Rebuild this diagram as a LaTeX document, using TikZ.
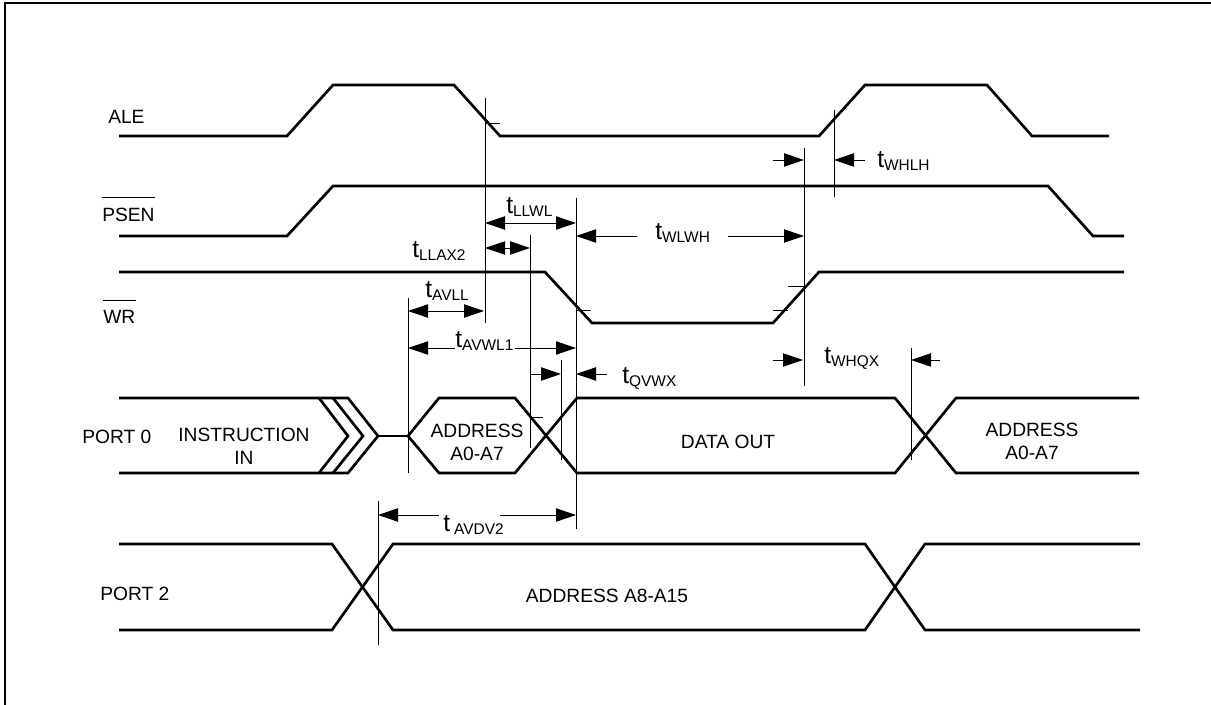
\documentclass[tikz,border=0pt]{standalone}
\usepackage{fontspec}
\setmainfont{Liberation Sans}
\usetikzlibrary{arrows.meta}
\newcommand{\tlabel}[1]{{\fontsize{18.5}{20}\selectfont t}{\fontsize{11.6}{13}\selectfont\raisebox{-2pt}{#1}}}
\begin{document}
\begin{tikzpicture}[x=0.75pt,y=-0.75pt,
  sig/.style={line width=2pt, line join=miter},
  guide/.style={line width=0.7pt},
  tick/.style={line width=0.7pt},
  dimr/.style={line width=0.7pt, -{Triangle[length=15pt,width=10pt]}},
  dimb/.style={line width=0.7pt, {Triangle[length=15pt,width=10pt]}-{Triangle[length=15pt,width=10pt]}},
  txt/.style={font=\fontsize{14.4}{17.25}\selectfont, inner sep=0pt, align=center},
  tlab/.style={inner sep=0pt, anchor=base west}]

\useasboundingbox (0,0) rectangle (1211,705);
\draw[line width=2pt] (5,705) -- (5,3) -- (1211,3);

% ---- signal names
\node[txt, anchor=west] (ale) at (108,117) {ALE};
\node[txt, anchor=west] (psen) at (102,215) {PSEN};
\draw[line width=0.7pt] ([yshift=7.5pt]psen.north west) -- ([yshift=7.5pt]psen.north east);
\node[txt, anchor=west] (wr) at (103,317) {WR};
\draw[line width=0.7pt] ([yshift=7.5pt]wr.north west) -- ([yshift=7.5pt]wr.north east);
\node[txt, anchor=west] (p0) at (82,437) {PORT 0};
\node[txt, anchor=west] (p2) at (100,594) {PORT 2};

% ---- waveforms
\draw[sig] (119,136) -- (287,136) -- (333,85) -- (454,85) -- (500,136) -- (819,136) -- (865,85) -- (987,85) -- (1032,136) -- (1109,136);
\draw[sig] (119,236) -- (287,236) -- (333,186) -- (1048,186) -- (1093,236) -- (1124,236);
\draw[sig] (119,272) -- (545,272) -- (592,323) -- (773,323) -- (819,272) -- (1124,272);

% port 0
\draw[sig] (119,398) -- (348,398) -- (378,436) -- (348,473) -- (119,473);
\draw[sig] (319,398) -- (348,436) -- (319,473);
\draw[sig] (333,398) -- (363,436) -- (333,473);
\draw[sig] (378,436) -- (408,436);
\draw[sig] (408,436) -- (439,398) -- (515,398) -- (577,473) -- (895,473) -- (956,398) -- (1139,398);
\draw[sig] (408,436) -- (439,473) -- (515,473) -- (577,398) -- (895,398) -- (956,473) -- (1139,473);
\node[txt] (instr) at (244,446.5) {INSTRUCTION\\IN};
\node[txt] (adr1) at (477,442) {ADDRESS\\A0-A7};
\node[txt] (dout) at (728,442) {DATA OUT};
\node[txt] (adr2) at (1032,441.5) {ADDRESS\\A0-A7};

% port 2
\draw[sig] (119,544) -- (332,544) -- (393,630) -- (865,630) -- (925,544) -- (1140,544);
\draw[sig] (119,630) -- (332,630) -- (393,544) -- (865,544) -- (925,630) -- (1140,630);
\node[txt] (adr3) at (607,596) {ADDRESS A8-A15};

% ---- guide lines
\draw[guide] (485,98) -- (485,323);
\draw[guide] (834,110) -- (834,197);
\draw[guide] (804,148) -- (804,386);
\draw[guide] (576,198) -- (576,529);
\draw[guide] (530,235) -- (530,448);
\draw[guide] (408,298) -- (408,473);
\draw[guide] (561,360) -- (561,460);
\draw[guide] (911,348) -- (911,460);
\draw[guide] (378,501) -- (378,645);

% ---- ticks
\draw[tick] (485,123) -- (500,123);
\draw[tick] (576,310) -- (591,310);
\draw[tick] (773,310) -- (788,310);
\draw[tick] (788,286) -- (804,286);
\draw[tick] (530,417) -- (543,417);

% ---- timing arrows
% tWHLH
\draw[dimr] (773,160) -- (804,160);
\draw[dimr] (865,160) -- (834,160);
\node[tlab] (twhlh) at (877,168) {\tlabel{WHLH}};
% tLLWL
\draw[dimb] (485,223) -- (576,223);
\node[tlab] (tllwl) at (506,214) {\tlabel{LLWL}};
% tWLWH
\draw[dimr] (637,236) -- (576,236);
\draw[dimr] (728,236) -- (804,236);
\node[tlab] (twlwh) at (655,240) {\tlabel{WLWH}};
% tLLAX2
\draw[dimb] (485,248) -- (530,248);
\node[tlab] (tllax) at (412,258) {\tlabel{LLAX2}};
% tAVLL
\draw[dimb] (408,311) -- (484,311);
\node[tlab] (tavll) at (425,298) {\tlabel{AVLL}};
% tAVWL1
\draw[dimr] (455,348) -- (408,348);
\draw[dimr] (515,348) -- (576,348);
\node[tlab] (tavwl) at (455,348) {\tlabel{AVWL1}};
% tQVWX
\draw[dimr] (530,374) -- (561,374);
\draw[dimr] (607,374) -- (576,374);
\node[tlab] (tqvwx) at (622,384) {\tlabel{QVWX}};
% tWHQX
\draw[dimr] (773,360) -- (803,360);
\draw[dimr] (940,360) -- (911,360);
\node[tlab] (twhqx) at (824,364) {\tlabel{WHQX}};
% tAVDV2
\draw[dimr] (439,515) -- (378,515);
\draw[dimr] (500,515) -- (576,515);
\node[tlab] (tavdv) at (443,532) {{\fontsize{18.5}{20}\selectfont t}\hspace{3pt}{\fontsize{11.6}{13}\selectfont\raisebox{-2pt}{AVDV2}}};
\end{tikzpicture}
\end{document}
